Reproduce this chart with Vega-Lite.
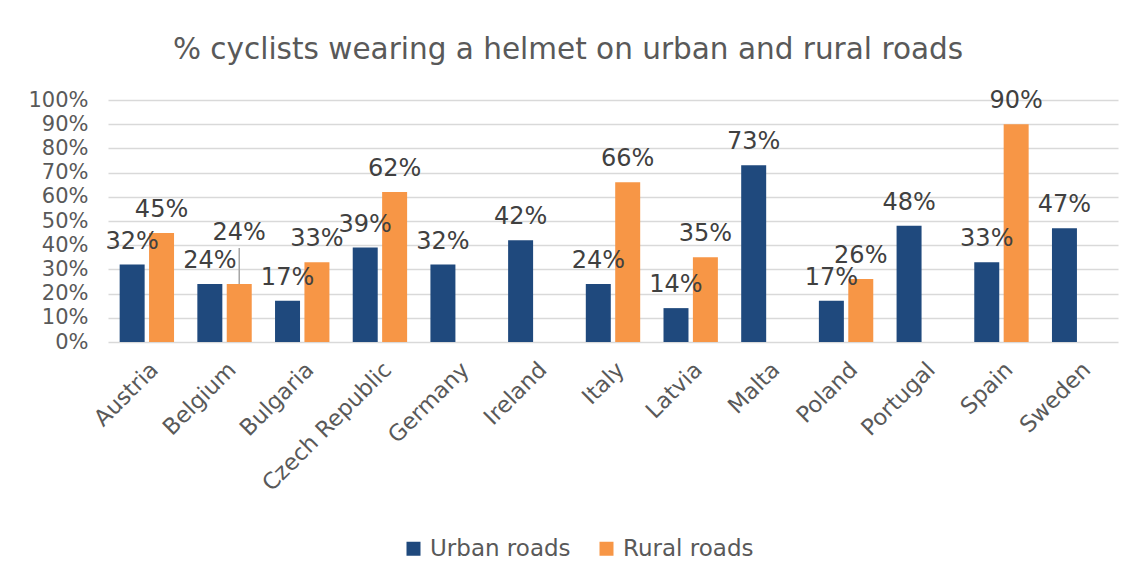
{
  "$schema": "https://vega.github.io/schema/vega-lite/v6.json",
  "autosize": {"type": "none"},
  "padding": {"left": 108, "top": 100, "right": 16, "bottom": 234},
  "width": 1010,
  "height": 242,
  "background": "white",
  "title": {
    "text": "% cyclists wearing a helmet on urban and rural roads",
    "font": "DejaVu Sans",
    "fontSize": 29.5,
    "fontWeight": "normal",
    "color": "#595959",
    "anchor": "middle",
    "frame": "group",
    "dx": -45,
    "offset": 24
  },
  "config": {
    "font": "DejaVu Sans",
    "view": {"stroke": null}
  },
  "data": {
    "values": [
      {"country": "Austria", "road": "Urban roads", "value": 0.32},
      {"country": "Austria", "road": "Rural roads", "value": 0.45},
      {"country": "Belgium", "road": "Urban roads", "value": 0.24},
      {"country": "Belgium", "road": "Rural roads", "value": 0.24},
      {"country": "Bulgaria", "road": "Urban roads", "value": 0.17},
      {"country": "Bulgaria", "road": "Rural roads", "value": 0.33},
      {"country": "Czech Republic", "road": "Urban roads", "value": 0.39},
      {"country": "Czech Republic", "road": "Rural roads", "value": 0.62},
      {"country": "Germany", "road": "Urban roads", "value": 0.32},
      {"country": "Ireland", "road": "Urban roads", "value": 0.42},
      {"country": "Italy", "road": "Urban roads", "value": 0.24},
      {"country": "Italy", "road": "Rural roads", "value": 0.66},
      {"country": "Latvia", "road": "Urban roads", "value": 0.14},
      {"country": "Latvia", "road": "Rural roads", "value": 0.35},
      {"country": "Malta", "road": "Urban roads", "value": 0.73},
      {"country": "Poland", "road": "Urban roads", "value": 0.17},
      {"country": "Poland", "road": "Rural roads", "value": 0.26},
      {"country": "Portugal", "road": "Urban roads", "value": 0.48},
      {"country": "Spain", "road": "Urban roads", "value": 0.33},
      {"country": "Spain", "road": "Rural roads", "value": 0.90},
      {"country": "Sweden", "road": "Urban roads", "value": 0.47}
    ]
  },
  "encoding": {
    "x": {
      "field": "country",
      "type": "nominal",
      "sort": null,
      "scale": {"paddingInner": 0.3, "paddingOuter": 0.15},
      "axis": {
        "title": null,
        "labelAngle": -45,
        "labelFontSize": 22.5,
        "labelColor": "#595959",
        "labelPadding": 16,
        "ticks": false,
        "domain": false,
        "grid": false
      }
    },
    "xOffset": {
      "field": "road",
      "type": "nominal",
      "scale": {"domain": ["Urban roads", "Rural roads"], "paddingInner": 0.15, "paddingOuter": 0}
    },
    "y": {
      "field": "value",
      "type": "quantitative",
      "scale": {"domain": [0, 1]},
      "axis": {
        "title": null,
        "format": ".0%",
        "values": [0, 0.1, 0.2, 0.3, 0.4, 0.5, 0.6, 0.7, 0.8, 0.9, 1],
        "labelFontSize": 21,
        "labelColor": "#595959",
        "labelPadding": 20,
        "ticks": false,
        "domain": false,
        "grid": true,
        "gridColor": "#D9D9D9",
        "gridWidth": 1.5
      }
    }
  },
  "layer": [
    {
      "mark": {"type": "bar"},
      "encoding": {
        "color": {
          "field": "road",
          "type": "nominal",
          "scale": {"domain": ["Urban roads", "Rural roads"], "range": ["#1F497D", "#F79646"]},
          "legend": {
            "title": null,
            "orient": "none",
            "direction": "horizontal",
            "legendX": 294,
            "legendY": 437,
            "padding": 0,
            "symbolType": "square",
            "symbolSize": 196,
            "symbolStrokeWidth": 0,
            "labelFontSize": 23,
            "labelColor": "#595959",
            "labelOffset": 5,
            "columnPadding": 24
          }
        }
      }
    },
    {
      "transform": [{"filter": "!(datum.country == 'Belgium' && datum.road == 'Rural roads')"}],
      "mark": {"type": "text", "baseline": "alphabetic", "dy": -16, "fontSize": 24, "color": "#404040"},
      "encoding": {
        "text": {"field": "value", "type": "quantitative", "format": ".0%"}
      }
    },
    {
      "transform": [{"filter": "datum.country == 'Belgium' && datum.road == 'Rural roads'"}],
      "mark": {"type": "text", "baseline": "alphabetic", "dy": -44, "fontSize": 24, "color": "#404040"},
      "encoding": {
        "text": {"field": "value", "type": "quantitative", "format": ".0%"}
      }
    },
    {
      "transform": [{"filter": "datum.country == 'Belgium' && datum.road == 'Rural roads'"}],
      "mark": {"type": "rule", "color": "#A6A6A6", "strokeWidth": 1.5, "y2Offset": -36},
      "encoding": {
        "y2": {"field": "value"}
      }
    }
  ]
}
